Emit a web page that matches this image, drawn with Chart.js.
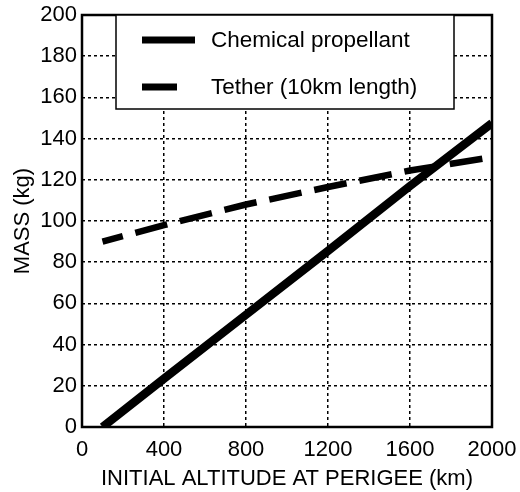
<!DOCTYPE html>
<html>
<head>
<meta charset="utf-8">
<script src="https://cdn.jsdelivr.net/npm/chart.js@4/dist/chart.umd.min.js"></script>
<style>
  body { margin: 0; background: #fff; }
  canvas { display: block; }
</style>
</head>
<body>
<canvas id="mass-chart" width="520" height="492"></canvas>
<script>
// values
const altitudes = [100, 400, 800, 1200, 1600, 2000];
const chemicalMass = [0, 23.5, 54.5, 85.5, 117, 147.5];
const tetherMass = [90, 98, 108, 116.5, 124.5, 131];
const xTicks = [0, 400, 800, 1200, 1600, 2000];
const yTicks = [0, 20, 40, 60, 80, 100, 120, 140, 160, 180, 200];

const FONT = '"Liberation Sans", Arial, sans-serif';

function toPoints(xs, ys) {
    return xs.map((x, i) => ({ x: x, y: ys[i] }));
}

// grid lines inside the frame only (edges are drawn by the frame)
function gridColor(ctx) {
    const s = ctx.scale;
    if (!ctx.tick) return 'rgba(0,0,0,0)';
    if (ctx.tick.value === s.min || ctx.tick.value === s.max) return 'rgba(0,0,0,0)';
    return '#000';
}

const frameAndLegend = {
    id: 'frameAndLegend',
    afterDraw(chart) {
        const { ctx, chartArea: a } = chart;
        ctx.save();
        // plot frame
        ctx.strokeStyle = '#000';
        ctx.lineWidth = 2.5;
        ctx.strokeRect(a.left, a.top, a.right - a.left, a.bottom - a.top);

        // legend box
        const bx = 116, by = a.top, bw = 338, bh = 94;
        ctx.fillStyle = '#fff';
        ctx.fillRect(bx, by, bw, bh);
        ctx.lineWidth = 1.5;
        ctx.strokeRect(bx, by, bw, bh);

        const ds = chart.data.datasets;
        ctx.lineCap = 'butt';
        ctx.strokeStyle = '#000';
        ctx.lineWidth = 7;
        ctx.beginPath();
        ctx.moveTo(142, 40); ctx.lineTo(195, 40);
        ctx.stroke();
        ctx.beginPath();
        ctx.moveTo(142, 87); ctx.lineTo(177, 87);
        ctx.stroke();

        ctx.fillStyle = '#000';
        ctx.font = '22.5px ' + FONT;
        ctx.textBaseline = 'middle';
        ctx.textAlign = 'left';
        ctx.fillText(ds[0].label, 211, 41);
        ctx.fillText(ds[1].label, 211, 88);
        ctx.restore();
    }
};

const gridOpts = {
    color: gridColor,
    lineWidth: 1.5,
    drawTicks: false,
    borderDash: [3, 3]
};

new Chart(document.getElementById('mass-chart'), {
    type: 'line',
    data: {
        datasets: [{
            label: 'Chemical propellant',
            data: toPoints(altitudes, chemicalMass),
            borderColor: '#000',
            borderWidth: 8.5,
            borderCapStyle: 'butt',
            pointRadius: 0,
            tension: 0
        }, {
            label: 'Tether (10km length)',
            data: toPoints(altitudes, tetherMass),
            borderColor: '#000',
            borderWidth: 6.5,
            borderDash: [33, 13],
            borderDashOffset: 12,
            borderCapStyle: 'butt',
            pointRadius: 0,
            tension: 0
        }]
    },
    options: {
        responsive: false,
        animation: false,
        layout: { padding: { top: 15, right: 28, left: 0, bottom: 0 } },
        plugins: { legend: { display: false }, tooltip: { enabled: false } },
        scales: {
            x: {
                type: 'linear',
                min: 0,
                max: 2000,
                afterFit: s => { s.height = 65; s.paddingLeft = 0; s.paddingRight = 0; },
                afterBuildTicks: s => { s.ticks = xTicks.map(v => ({ value: v })); },
                border: { display: false, dash: [3, 3] },
                grid: gridOpts,
                ticks: {
                    color: '#000',
                    padding: 10,
                    maxRotation: 0,
                    font: { family: FONT, size: 22 },
                    callback: v => String(v)
                },
                title: {
                    display: true,
                    text: 'INITIAL ALTITUDE AT PERIGEE (km)',
                    color: '#000',
                    font: { family: FONT, size: 22 },
                    padding: 0
                }
            },
            y: {
                min: 0,
                max: 200,
                afterFit: s => { s.width = 82; s.paddingTop = 0; s.paddingBottom = 0; },
                afterBuildTicks: s => { s.ticks = yTicks.map(v => ({ value: v })); },
                border: { display: false, dash: [3, 3] },
                grid: gridOpts,
                ticks: {
                    color: '#000',
                    padding: 5,
                    font: { family: FONT, size: 22 },
                    callback: v => String(v)
                },
                title: {
                    display: true,
                    text: 'MASS (kg)',
                    color: '#000',
                    font: { family: FONT, size: 22 },
                    padding: { top: 10, bottom: 0 }
                }
            }
        }
    },
    plugins: [frameAndLegend]
});
</script>
</body>
</html>
